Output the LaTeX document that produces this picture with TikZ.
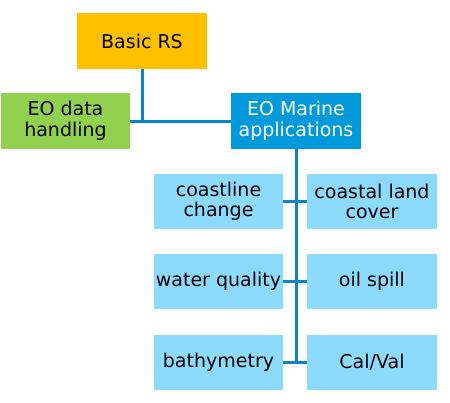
\documentclass[tikz,border=0pt]{standalone}
\usepackage{fontspec}
\setmainfont{DejaVu Sans}
\definecolor{cOrange}{HTML}{FFC000}
\definecolor{cGreen}{HTML}{92D050}
\definecolor{cBlue}{HTML}{0099DA}
\definecolor{cLight}{HTML}{8DDAFF}
\definecolor{cLine}{HTML}{0A85C7}
\begin{document}
\begin{tikzpicture}[x=1pt,y=-1pt,
  box/.style={rectangle, inner sep=0pt, align=center, font=\fontsize{19}{20.5}\selectfont, text=black},
  bigbox/.style={box, minimum width=130pt, minimum height=56pt},
  smallbox/.style={box, fill=cLight, minimum width=129pt, minimum height=55pt},
  conn/.style={draw=cLine, line width=3pt}]
\useasboundingbox (0,0) rectangle (450,402);
\node[bigbox, fill=cOrange] (basic) at (142,41) {Basic RS};
\node[bigbox, fill=cGreen, minimum width=129pt] (data) at (65.5,121) {EO data\\handling};
\node[bigbox, fill=cBlue, text=white] (marine) at (296,121) {EO Marine\\applications};
\node[smallbox] (coast) at (218.5,201.5) {coastline\\change};
\node[smallbox, minimum width=130pt] (land) at (372,201.5) {coastal land\\cover};
\node[smallbox] (water) at (218.5,281.5) {water quality};
\node[smallbox, minimum width=130pt] (oil) at (372,281.5) {oil spill};
\node[smallbox] (bathy) at (218.5,362) {bathymetry};
\node[smallbox, minimum width=130pt] (cal) at (372,362) {Cal/Val};
\coordinate (bottom) at (296,362);
\draw[conn] (data.east) -- (marine.west);
\draw[conn] (basic.south) -- (basic.south |- marine.west);
\draw[conn] (marine.south) -- ([yshift=1.5pt]bottom);
\draw[conn] (coast.east) -- (land.west);
\draw[conn] (water.east) -- (oil.west);
\draw[conn] (bathy.east) -- (cal.west);
\end{tikzpicture}
\end{document}
